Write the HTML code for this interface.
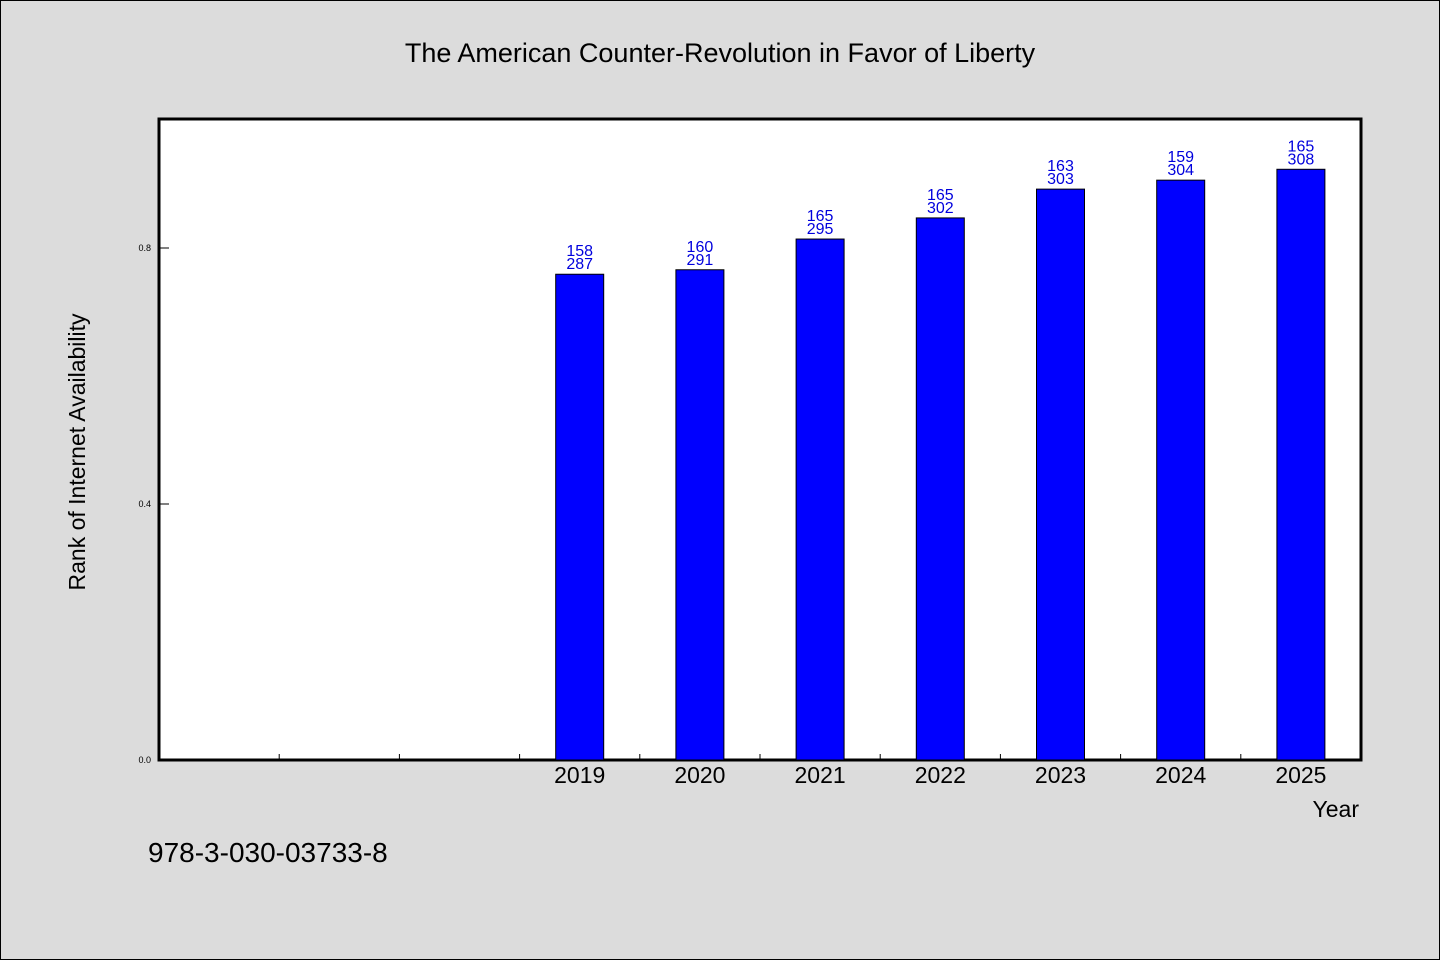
<!DOCTYPE html>
<html><head><meta charset="utf-8"><style>
body{margin:0;background:#dcdcdc;}
svg{display:block;}
text{font-family:"WenQuanYi Zen Hei","Liberation Sans",sans-serif;}
</style></head><body>
<svg width="1440" height="960" xmlns="http://www.w3.org/2000/svg">
<rect x="0.5" y="0.5" width="1439" height="959" fill="#dcdcdc" stroke="#000"/>
<text x="720" y="62" font-size="27" text-anchor="middle">The American Counter-Revolution in Favor of Liberty</text>
<rect x="159" y="119" width="1202" height="641" fill="#fff" stroke="#000" stroke-width="3"/>
<g id="ticks"></g>
<g id="bars"></g>
<text transform="translate(85,452) rotate(-90)" font-size="23" text-anchor="middle">Rank of Internet Availability</text>
<text x="1359" y="817" font-size="23" text-anchor="end">Year</text>
<text x="148" y="862" font-size="28">978-3-030-03733-8</text>
</svg>
<script>
const categories=["2019","2020","2021","2022","2023","2024","2025"];
const values=[0.759,0.766,0.814,0.847,0.892,0.906,0.923];
const labelTop=["158","160","165","165","163","159","165"];
const labelBottom=["287","291","295","302","303","304","308"];
const yTicks=[0.0,0.4,0.8];
const NS="http://www.w3.org/2000/svg";
const X0=159,X1=1361,Y0=760,Y1=120,slots=10,offset=3;
const bw=(X1-X0)/slots;
const y=v=>Y0-(Y0-Y1)*v;
const xc=i=>X0+bw*(i+offset+0.5);
function mk(tag,attrs,parent){const e=document.createElementNS(NS,tag);for(const k in attrs)e.setAttribute(k,attrs[k]);parent.appendChild(e);return e;}
const tg=document.getElementById('ticks'),bg=document.getElementById('bars');
yTicks.forEach(t=>{
  const l=mk('line',{x1:X0,x2:X0+10,y1:y(t),y2:y(t),stroke:'#000'},tg);
  
  
  const tx=mk('text',{x:X0-8,y:y(t)+3,'font-size':9,'text-anchor':'end'},tg);
  tx.textContent=t.toFixed(1);
  
  
});
for(let i=1;i<slots;i++){
  const x=X0+bw*i;
  const l=mk('line',{x1:x,x2:x,y1:Y0,y2:Y0-6,stroke:'#000'},tg);
  
  
}
categories.forEach((c,i)=>{
  const cx=xc(i),top=y(values[i]);
  const r=mk('rect',{x:cx-24,y:top,width:48,height:Y0-top,fill:'#0000ff',stroke:'#000','stroke-width':1},bg);
  
  
  const a=mk('text',{x:cx,y:top-18,'font-size':16,'text-anchor':'middle',fill:'#0000dd'},bg);
  a.textContent=labelTop[i];
  
  
  const b=mk('text',{x:cx,y:top-5,'font-size':16,'text-anchor':'middle',fill:'#0000dd'},bg);
  b.textContent=labelBottom[i];
  
  
  const t=mk('text',{x:cx,y:783,'font-size':23,'text-anchor':'middle'},bg);
  t.textContent=c;
  
  
});
</script>
</body></html>
